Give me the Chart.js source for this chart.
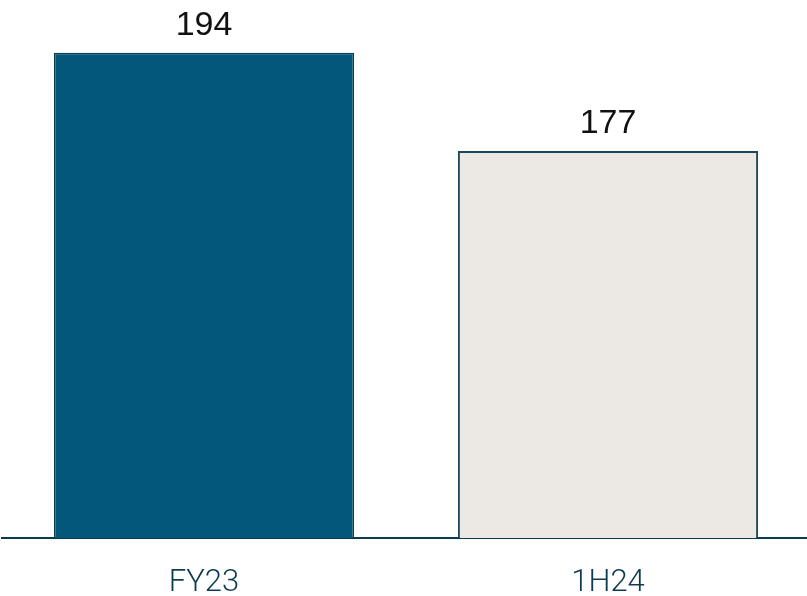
<!DOCTYPE html>
<html>
<head>
<meta charset="utf-8">
<script src="https://cdn.jsdelivr.net/npm/chart.js@4.4.1/dist/chart.umd.min.js"></script>
<style>
  html, body { margin: 0; padding: 0; background: #ffffff; }
  #wrap { width: 807px; height: 596px; overflow: hidden; }
</style>
</head>
<body>
<div id="wrap"><canvas id="chart" width="812" height="596"></canvas></div>
<script>
// Periods and values
const categories = ['FY23', '1H24'];
const values = [194, 177];

// Per-bar styling
const fillColors = ['#03577A', '#ECE8E4'];
const edgeColors = ['#0A3C52', '#1A475B'];
const edgeWidths = [1.5, 2];

// Value labels above each bar, positioned from the bar elements
const valueLabels = {
  id: 'valueLabels',
  afterDatasetsDraw(chart) {
    const { ctx } = chart;
    const meta = chart.getDatasetMeta(0);
    ctx.save();
    ctx.fillStyle = '#111111';
    ctx.font = '34px "Liberation Sans", Arial, sans-serif';
    ctx.textAlign = 'center';
    ctx.textBaseline = 'alphabetic';
    meta.data.forEach((bar, i) => {
      ctx.fillText(String(values[i]), bar.x, bar.y - 18);
    });
    ctx.restore();
  }
};

new Chart(document.getElementById('chart'), {
  type: 'bar',
  data: {
    labels: categories,
    datasets: [{
      data: values,
      backgroundColor: fillColors,
      borderColor: edgeColors,
      borderWidth: edgeWidths,
      categoryPercentage: 1.0,
      barPercentage: 0.743
    }]
  },
  options: {
    responsive: false,
    animation: false,
    layout: { padding: { left: 2, right: 2, top: 18, bottom: 0 } },
    plugins: {
      legend: { display: false },
      tooltip: { enabled: false }
    },
    scales: {
      x: {
        grid: { display: false, drawTicks: false },
        border: { display: true, color: '#0B3A4F', width: 2 },
        ticks: {
          color: '#0D3B4F',
          padding: 27,
          font: { family: 'Roboto', size: 31, weight: '300' }
        },
        // keep the category band a fixed height so the baseline sits low
        afterFit(scale) { scale.height = 58; }
      },
      y: {
        display: false,
        min: 110,
        max: 200
      }
    }
  },
  plugins: [valueLabels]
});
</script>
</body>
</html>
